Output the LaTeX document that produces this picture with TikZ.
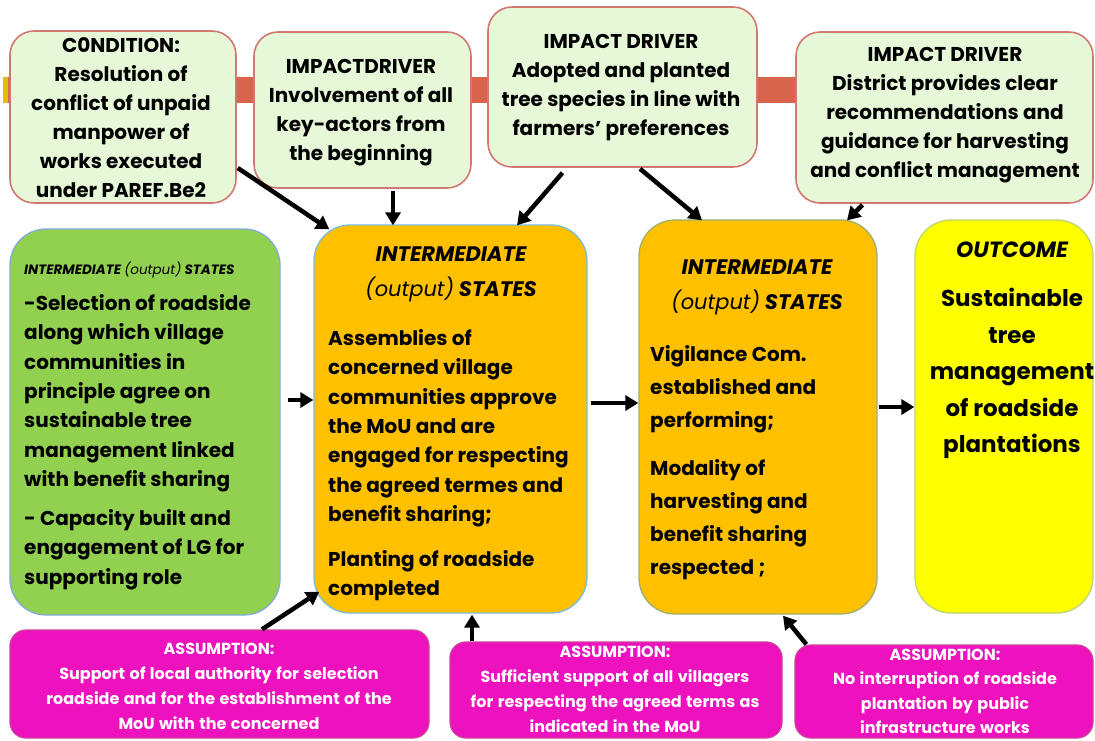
\documentclass[tikz,border=0pt]{standalone}
\usepackage{fontspec}
\setmainfont{Poppins}
\newfontfamily\pinkfont{Poppins}[WordSpace=1.3]
\usetikzlibrary{arrows.meta,calc}
\definecolor{palegreen}{HTML}{E6F8D7}
\definecolor{boxred}{HTML}{D27873}
\definecolor{barred}{HTML}{D7644B}
\definecolor{barmustard}{HTML}{E0C000}
\definecolor{leafgreen}{HTML}{92D050}
\definecolor{leafedge}{HTML}{82AADC}
\definecolor{amber}{HTML}{FFC000}
\definecolor{amberedgeA}{HTML}{78BEDC}
\definecolor{amberedgeB}{HTML}{9CB070}
\definecolor{brightyellow}{HTML}{FFFF00}
\definecolor{yellowedge}{HTML}{BED278}
\definecolor{magentabox}{HTML}{EE12BE}
\definecolor{pinkedge}{HTML}{D0409A}
\begin{document}
\begin{tikzpicture}[x=1pt,y=-1pt,
  topbox/.style={draw=boxred, fill=palegreen, line width=1.6pt, rounded corners=24pt, inner sep=0pt},
  mainbox/.style={line width=1.3pt, rounded corners=36pt, inner sep=0pt},
  pinkbox/.style={draw=pinkedge, fill=magentabox, line width=1.3pt, rounded corners=16pt, inner sep=0pt},
  toptext/.style={anchor=north, align=center, inner sep=0pt, font=\bfseries\fontsize{20}{29}\selectfont},
  bodytext/.style={anchor=north west, align=left, inner sep=0pt, font=\bfseries\fontsize{20}{29.3}\selectfont},
  headtext/.style={anchor=north, align=center, inner sep=0pt, font=\bfseries\itshape\fontsize{21}{35}\selectfont},
  pinktext/.style={anchor=north, align=center, inner sep=0pt, text=white, font=\pinkfont\bfseries\fontsize{16}{25}\selectfont},
  arr/.style={-{Triangle[length=13pt,width=15pt]}, line width=4.5pt}
]
\useasboundingbox (0,0) rectangle (1095,740);
% background bar
\fill[barred] (3,77) rectangle (800,103);
\fill[barmustard] (3,77) rectangle (8,103);
% top boxes
\node[topbox, minimum width=226pt, minimum height=172pt] (c1) at (123,117) {};
\node[topbox, minimum width=217pt, minimum height=156pt] (d1) at (362.5,110) {};
\node[topbox, minimum width=269pt, minimum height=160pt] (d2) at (622.5,87) {};
\node[topbox, minimum width=297pt, minimum height=171pt] (d3) at (944.5,117.5) {};
% main boxes
\node[mainbox, draw=leafedge, fill=leafgreen, minimum width=270pt, minimum height=386pt] (g) at (145,422) {};
\node[mainbox, draw=amberedgeA, fill=amber, minimum width=273pt, minimum height=388pt] (o1) at (450.5,419) {};
\node[mainbox, draw=amberedgeB, fill=amber, minimum width=238pt, minimum height=394pt] (o2) at (758,417) {};
\node[mainbox, draw=yellowedge, fill=brightyellow, minimum width=178pt, minimum height=393pt] (yl) at (1004,416.5) {};
% assumption boxes
\node[pinkbox, minimum width=419pt, minimum height=108pt] (p1) at (219.5,684) {};
\node[pinkbox, minimum width=332pt, minimum height=96pt] (p2) at (616,690) {};
\node[pinkbox, minimum width=298pt, minimum height=93pt] (p3) at (944,691.5) {};
% connectors
\draw[arr] ($(c1.east)+(1,51)$) -- ($(o1.north west)+(16,5)$);
\draw[arr] ($(d1.south)+(30.5,2)$) -- ($(o1.north)+(-57.5,1)$);
\draw[arr] ($(d2.south)+(-60,5)$) -- ($(o1.north)+(66.5,1)$);
\draw[arr] ($(d2.south)+(17.5,1)$) -- ($(o2.north)+(-56,1)$);
\draw[arr] ($(d3.south)+(-82,1)$) -- ($(o2.north)+(89,1)$);
\draw[arr] ($(g.east)+(7,-22)$) -- ($(o1.west)+(0,-19)$);
\draw[arr] ($(o1.east)+(3,-16)$) -- ($(o2.west)+(0,-14)$);
\draw[arr] ($(o2.east)+(1,-10)$) -- ($(yl.west)+(0,-9.5)$);
\draw[arr] ($(p1.north)+(42.5,0)$) -- ($(o1.south west)+(6,-22)$);
\draw[arr] ($(p2.north)+(-144,0)$) -- ($(o1.south)+(21.5,1)$);
\draw[arr] ($(p3.north west)+(12,0)$) -- ($(o2.south)+(25,1)$);
% texts in top boxes
\node[toptext] (c1t) at (121,37.4) {C0NDITION:\\Resolution of\\conflict of unpaid\\manpower of\\works executed\\under PAREF.Be2};
\node[toptext] (d1t) at (361,59.4) {IMPACTDRIVER\\Involvement of all\\key-actors from\\the beginning};
\node[toptext] (d2t) at (621,34.4) {IMPACT DRIVER\\Adopted and planted\\tree species in line with\\farmers' preferences};
\node[toptext] (d3t) at (945,47.4) {IMPACT DRIVER\\District provides clear\\recommendations and\\guidance for harvesting\\and conflict management};
% green box
\node[anchor=north west, inner sep=0pt, font=\bfseries\itshape\fontsize{13.5}{16}\selectfont] (gh) at (24,262) {INTERMEDIATE {\mdseries(output)} STATES};
\node[bodytext] (gt) at (24,294.4) {-Selection of roadside\\along which village\\communities in\\principle agree on\\sustainable tree\\management linked\\with benefit sharing\\[9.7pt]- Capacity built and\\engagement of LG for\\supporting role};
% orange box 1
\node[headtext] (o1h) at (451,247) {INTERMEDIATE\\{\mdseries(output)} STATES};
\node[bodytext] (o1t) at (328,329.4) {Assemblies of\\concerned village\\communities approve\\the MoU and are\\engaged for respecting\\the agreed termes and\\benefit sharing;\\[15.7pt]Planting of roadside\\completed};
% orange box 2
\node[headtext] (o2h) at (757,260) {INTERMEDIATE\\{\mdseries(output)} STATES};
\node[bodytext, font=\bfseries\fontsize{20}{33}\selectfont] (o2t) at (650,345.4) {Vigilance Com.\\established and\\performing;\\[15pt]Modality of\\harvesting and\\benefit sharing\\respected ;};
% outcome
\node[anchor=north, inner sep=0pt, font=\bfseries\itshape\fontsize{22}{24}\selectfont] (ylh) at (1012,241.6) {OUTCOME};
\node[anchor=north, align=center, inner sep=0pt, font=\bfseries\fontsize{23}{36.5}\selectfont] (ylt) at (1012,288) {Sustainable\\tree\\management\\of roadside\\plantations};
% assumptions
\node[pinktext] (p1t) at (219,643) {ASSUMPTION:\\Support of local authority for selection\\roadside and for the establishment of the\\MoU with the concerned};
\node[pinktext] (p2t) at (615,646) {ASSUMPTION:\\Sufficient support of all villagers\\for respecting the agreed terms as\\indicated in the MoU};
\node[pinktext, font=\pinkfont\bfseries\fontsize{16}{24.3}\selectfont] (p3t) at (945,649) {ASSUMPTION:\\No interruption of roadside\\plantation by public\\infrastructure works};
\end{tikzpicture}
\end{document}
